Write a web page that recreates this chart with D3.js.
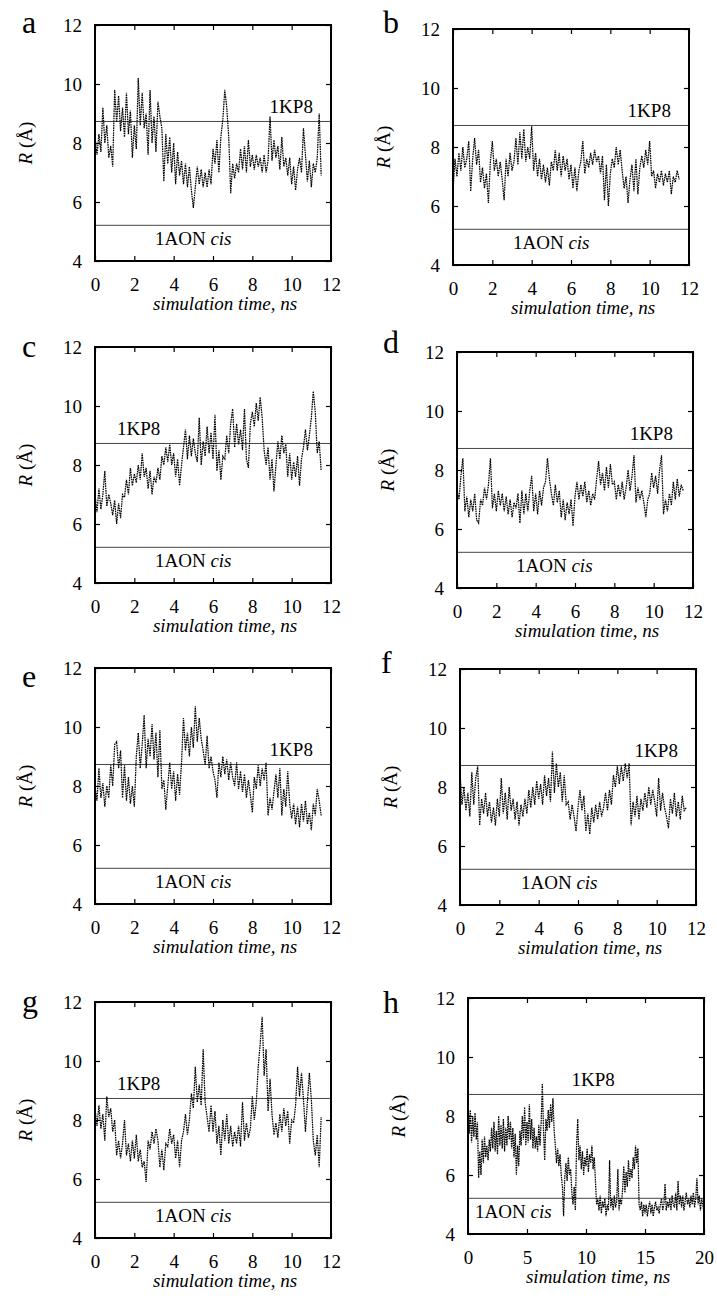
<!DOCTYPE html>
<html>
<head>
<meta charset="utf-8">
<title>R vs simulation time</title>
<style>
  body { margin: 0; background: #fff; }
</style>
</head>
<body>
<script src="https://cdnjs.cloudflare.com/ajax/libs/d3/7.9.0/d3.min.js"></script>
<script>
const width = 717, height = 1299;
const serif = "'Liberation Serif', 'Times New Roman', Times, 'DejaVu Serif', serif";

// traces are sampled every 0.1 ns
const dt = 0.1;

// reference distances (Å)
const ref1KP8 = 8.73;
const ref1AON = 5.21;

const panelNames = ["a", "b", "c", "d", "e", "f", "g", "h"];
const yTicks = [4, 6, 8, 10, 12];
const xTicks12 = [0, 2, 4, 6, 8, 10, 12];
const xTicks20 = [0, 5, 10, 15, 20];

// R (Å)
const rA = [8.2,7.6,8.3,7.7,9.2,8.0,8.6,7.5,7.9,7.2,
  9.8,8.7,9.6,8.4,9.2,8.2,9.7,8.3,9.1,7.5,
  8.6,7.8,10.2,8.6,9.7,8.5,9.0,7.6,9.8,8.0,
  8.9,7.7,9.4,8.9,8.5,6.7,8.3,7.3,8.2,7.0,
  8.0,6.6,7.7,6.9,7.4,6.6,7.3,6.5,7.2,6.4,
  5.8,6.5,7.2,6.6,7.1,6.5,7.0,6.5,7.1,6.6,
  7.8,7.3,8.1,7.0,8.2,8.8,9.8,9.2,8.2,6.3,
  7.3,6.8,7.3,7.0,7.8,7.1,7.9,7.0,8.1,7.2,
  7.6,7.1,7.6,7.2,7.5,7.0,7.6,7.0,7.4,8.9,
  7.4,8.1,7.5,7.9,7.1,8.2,7.2,7.5,6.9,7.5,
  6.6,7.2,6.4,7.1,7.5,7.0,8.5,7.6,6.7,7.4,
  6.5,7.3,7.0,7.5,9.0,6.9];

const rB = [6.5,7.6,7.0,7.8,7.2,8.0,7.3,7.6,8.2,6.5,
  7.6,8.3,7.4,7.9,6.8,7.3,6.6,7.1,6.1,7.5,
  8.2,7.2,7.6,7.0,7.5,6.9,6.2,7.6,7.0,7.8,
  7.2,7.5,8.3,7.4,8.5,7.6,8.6,7.5,8.0,7.6,
  8.7,7.2,7.8,7.0,7.6,6.9,7.4,6.8,7.3,6.7,
  7.5,7.2,7.9,7.2,7.8,7.0,7.7,7.2,7.6,6.9,
  7.4,6.6,7.3,6.5,7.2,7.5,8.2,7.1,7.6,7.3,
  7.8,7.4,7.9,7.5,7.7,7.1,7.7,6.2,7.4,6.0,
  7.1,7.6,7.3,8.0,7.4,7.9,7.2,6.6,7.0,6.1,
  6.9,7.4,6.5,7.6,6.4,7.3,7.7,7.3,7.9,7.4,
  8.2,7.0,7.2,6.6,7.1,6.8,7.2,6.7,7.1,6.8,
  7.2,6.4,7.0,6.8,7.2,6.9];

const rC = [7.0,6.4,7.2,6.5,7.0,7.8,6.6,7.0,6.7,6.3,
  6.8,6.0,6.7,6.2,7.0,6.9,7.5,7.0,7.9,7.3,
  7.7,7.4,8.0,7.5,8.4,7.6,7.9,7.2,7.8,7.0,
  7.6,7.4,7.9,7.5,8.3,8.0,8.6,8.1,8.7,8.0,
  8.4,7.6,8.2,7.3,8.0,8.6,9.2,8.2,9.0,8.3,
  8.9,8.4,8.1,9.6,8.0,8.8,8.3,9.3,8.4,9.1,
  8.2,9.7,7.8,8.5,7.5,8.3,8.2,9.0,8.4,9.4,
  9.9,8.6,9.4,8.7,9.2,8.5,9.9,8.2,7.9,9.4,
  9.8,9.3,10.1,9.5,10.3,9.6,8.5,8.0,8.6,7.5,
  8.2,7.1,8.0,8.8,8.2,9.0,8.4,8.7,7.6,8.4,
  7.5,8.1,7.6,8.3,7.3,8.2,8.6,9.2,8.5,9.0,
  9.6,10.5,9.8,8.4,8.8,7.8];

const rD = [7.3,7.0,7.8,8.4,6.6,7.1,6.4,7.0,6.6,7.2,
  6.3,6.2,7.0,6.8,7.4,7.0,7.5,8.4,6.7,7.2,
  6.6,7.3,6.8,7.2,6.6,7.1,6.5,7.0,6.4,6.9,
  6.7,7.2,6.2,7.3,6.5,7.2,6.6,7.3,7.8,6.6,
  7.2,6.5,7.3,6.8,7.4,7.6,8.4,7.7,7.2,6.8,
  7.5,6.9,7.3,6.4,7.0,6.3,6.9,6.5,7.0,6.1,
  7.1,7.6,7.0,7.5,7.1,7.6,6.9,7.3,6.8,7.2,
  7.0,7.7,8.3,7.5,7.9,7.3,8.1,7.4,8.2,7.5,
  7.6,7.0,7.5,7.1,7.6,7.0,7.4,8.0,7.3,7.8,
  8.5,6.9,7.4,7.0,7.3,6.9,6.4,7.0,7.2,7.9,
  7.4,7.8,7.2,8.0,8.5,6.5,7.0,6.6,7.2,6.8,
  7.6,7.0,7.7,7.1,7.5,7.3];

const rE = [8.0,7.5,8.6,7.6,8.1,7.3,8.0,7.6,8.7,8.0,
  9.4,9.5,8.6,9.2,7.6,8.7,7.5,8.3,7.4,8.0,
  7.3,9.0,9.8,8.6,9.4,10.4,8.6,9.6,9.0,10.1,
  8.9,9.8,8.3,9.9,7.9,8.2,7.2,8.0,8.8,7.9,
  8.5,7.5,8.4,7.7,8.8,10.3,9.2,9.8,9.0,10.0,
  9.3,10.7,9.5,10.3,9.6,9.2,8.7,9.7,8.6,9.0,
  8.5,8.2,7.6,8.8,8.3,9.0,8.4,8.9,8.2,8.8,
  8.3,8.0,8.8,7.9,8.5,7.8,8.4,7.6,8.2,7.7,
  7.1,8.3,7.9,8.7,8.0,8.6,8.2,8.8,7.0,7.6,
  7.2,7.8,8.4,7.6,8.6,7.0,7.9,7.3,8.5,7.4,
  6.9,7.4,6.7,7.3,6.6,7.4,6.8,7.5,6.7,7.1,
  6.5,7.4,7.0,7.9,7.5,7.0];

const rF = [8.5,7.4,8.0,7.2,7.8,7.0,8.5,7.4,8.3,8.7,
  6.7,7.6,7.1,7.8,7.0,7.5,6.8,7.3,6.7,7.6,
  7.0,8.3,7.1,7.8,6.9,8.0,7.2,7.6,6.9,7.5,
  6.7,7.4,7.0,7.6,7.1,7.9,7.3,8.0,7.4,8.2,
  7.6,8.1,7.4,8.4,7.7,8.3,7.5,9.2,7.8,8.8,
  8.0,8.5,7.5,8.4,7.4,7.5,6.9,7.4,7.0,6.5,
  7.3,7.9,7.2,7.7,6.5,7.1,6.4,7.3,6.8,7.4,
  6.9,7.5,7.0,7.3,7.8,7.2,7.9,7.4,8.4,8.0,
  8.7,8.1,8.7,8.2,8.8,8.3,8.8,6.7,7.5,7.0,
  7.7,6.9,7.6,7.2,7.8,7.3,8.0,7.4,7.9,7.5,
  7.0,8.3,7.2,7.8,7.3,7.0,6.6,7.6,7.1,7.8,
  7.0,7.5,6.9,7.7,7.2,7.3];

const rG = [8.4,7.8,8.5,7.7,8.2,7.3,8.8,8.1,8.4,7.6,
  8.0,6.8,7.3,6.7,7.2,8.0,6.8,7.2,6.6,7.3,
  6.7,7.5,6.6,7.0,6.4,6.6,5.9,7.3,7.0,7.6,
  7.2,7.7,7.3,6.4,7.0,6.3,7.2,7.1,7.7,7.2,
  7.5,6.7,7.3,6.4,7.3,7.6,8.2,7.5,8.0,8.9,
  8.4,9.8,8.6,9.2,8.5,10.4,8.6,8.1,7.6,8.5,
  7.6,8.3,7.2,7.8,6.8,8.0,7.3,8.2,7.2,7.8,
  7.1,7.6,7.2,7.8,7.1,8.6,7.3,7.9,7.4,7.7,
  8.8,8.0,8.6,9.8,10.6,11.5,9.5,10.4,8.3,9.4,
  8.2,7.5,7.9,7.4,8.2,7.6,8.4,7.8,8.3,7.2,
  8.0,7.9,8.5,9.8,8.8,9.6,8.7,7.6,8.6,9.6,
  8.7,7.3,6.8,7.5,6.4,8.1];

const rH = [8.7,7.4,8.2,7.1,8.0,7.3,8.1,7.2,7.8,5.9,6.8,
  6.0,7.2,6.4,7.3,6.6,7.0,6.5,7.2,6.8,7.6,
  6.9,7.8,6.8,7.5,6.7,8.0,7.0,7.7,6.9,7.9,
  6.8,7.6,7.0,8.0,7.2,7.8,6.9,7.6,6.6,7.4,
  6.0,7.0,6.3,7.5,7.0,8.0,7.2,8.3,7.0,7.8,
  7.1,8.4,7.2,7.9,6.9,7.6,6.9,7.3,6.8,7.7,
  7.0,7.8,9.1,7.5,6.5,7.9,7.5,8.2,7.6,8.4,
  7.8,8.6,7.5,7.0,6.4,6.9,6.3,6.7,6.0,5.6,
  4.6,5.9,6.4,5.8,6.6,6.0,6.2,5.4,5.0,5.6,
  4.8,7.0,7.9,6.5,7.0,6.2,6.8,6.0,6.6,6.3,
  6.9,6.1,6.7,6.4,7.0,6.2,6.6,5.8,5.0,5.2,
  4.8,5.3,4.7,5.1,4.9,5.2,4.6,5.0,4.8,6.5,
  4.9,5.2,4.8,5.3,4.9,5.1,6.2,4.8,5.2,5.0,
  5.5,6.3,5.4,6.1,5.6,6.5,5.8,6.2,5.9,6.6,
  6.2,7.0,6.4,6.9,5.0,4.8,5.1,4.6,5.0,4.7,
  5.0,4.6,4.9,5.1,4.7,5.0,4.6,4.9,5.1,4.8,
  4.9,4.7,5.0,5.2,4.8,5.0,5.7,4.8,5.1,4.9,
  5.2,4.8,5.3,5.0,4.9,5.4,4.8,5.8,5.0,5.3,
  4.9,5.3,4.8,5.1,5.4,5.0,5.2,4.9,5.3,5.0,
  5.4,4.9,5.2,5.9,5.0,5.3,4.8,5.2,5.0,4.7];

const series = [rA, rB, rC, rD, rE, rF, rG, rH];
const xMax = [12, 12, 12, 12, 12, 12, 12, 20];

// where each panel sits on the page, and where its labels go
const layout = [
  {x: 95,  y: 25,   lx: 22,  ly: 33,   kp: [11.08, "end"],  aon: 3.05},
  {x: 453, y: 29,   lx: 383, ly: 33,   kp: [11.08, "end"],  aon: 3.05},
  {x: 95,  y: 347,  lx: 22,  ly: 357,  kp: [1.12, "start"], aon: 3.05},
  {x: 457, y: 352,  lx: 383, ly: 353,  kp: [10.98, "end"],  aon: 3.0},
  {x: 95,  y: 668,  lx: 22,  ly: 687,  kp: [11.08, "end"],  aon: 3.05},
  {x: 460, y: 669,  lx: 381, ly: 673,  kp: [11.08, "end"],  aon: 3.1},
  {x: 95,  y: 1002, lx: 22,  ly: 1012, kp: [1.12, "start"], aon: 3.05},
  {x: 468, y: 998,  lx: 383, ly: 1013, kp: [8.77, "start"], aon: 0.6}
];
const boxW = 236, boxH = 236;

const svg = d3.select("body").append("svg")
  .attr("width", width)
  .attr("height", height)
  .attr("font-family", serif);

panelNames.forEach(function (name, i) {
  const L = layout[i];
  const data = series[i];
  const xTicks = xMax[i] === 20 ? xTicks20 : xTicks12;

  const x = d3.scaleLinear().domain([0, xMax[i]]).range([0, boxW]);
  const y = d3.scaleLinear().domain([4, 12]).range([boxH, 0]);

  const g = svg.append("g").attr("transform", `translate(${L.x},${L.y})`);

  // reference lines
  g.append("line")
    .attr("x1", 0).attr("x2", boxW)
    .attr("y1", y(ref1KP8)).attr("y2", y(ref1KP8))
    .attr("stroke", "#444").attr("stroke-width", 1);
  g.append("line")
    .attr("x1", 0).attr("x2", boxW)
    .attr("y1", y(ref1AON)).attr("y2", y(ref1AON))
    .attr("stroke", "#444").attr("stroke-width", 1);

  // trace
  const line = d3.line()
    .x((d, k) => x(k * dt))
    .y(d => y(d));
  g.append("path")
    .datum(data)
    .attr("d", line)
    .attr("fill", "none")
    .attr("stroke", "#000")
    .attr("stroke-width", 1.25)
    .attr("stroke-dasharray", "1.6,0.8");

  // reference labels
  g.append("text")
    .attr("x", x(L.kp[0]))
    .attr("y", y(ref1KP8) - 8)
    .attr("text-anchor", L.kp[1])
    .attr("font-size", 19)
    .attr("font-family", serif)
    .text("1KP8");
  const aon = g.append("text")
    .attr("x", x(L.aon))
    .attr("y", y(ref1AON) + 20)
    .attr("font-size", 19)
    .attr("font-family", serif);
  aon.append("tspan").text("1AON ");
  aon.append("tspan").attr("font-style", "italic").text("cis");

  // axes, ticks pointing inward on all four sides
  g.append("g")
    .attr("transform", `translate(0,${boxH})`)
    .call(d3.axisBottom(x).tickValues(xTicks).tickSizeInner(-5).tickSizeOuter(0).tickPadding(17))
    .call(a => a.select(".domain").remove())
    .call(a => a.selectAll("text").attr("font-size", 19).attr("font-family", serif));
  g.append("g")
    .call(d3.axisTop(x).tickValues(xTicks).tickSizeInner(-5).tickSizeOuter(0).tickFormat(""))
    .call(a => a.select(".domain").remove());
  g.append("g")
    .call(d3.axisLeft(y).tickValues(yTicks).tickSizeInner(-5).tickSizeOuter(0).tickPadding(13))
    .call(a => a.select(".domain").remove())
    .call(a => a.selectAll("text").attr("font-size", 19).attr("font-family", serif));
  g.append("g")
    .attr("transform", `translate(${boxW},0)`)
    .call(d3.axisRight(y).tickValues(yTicks).tickSizeInner(-5).tickSizeOuter(0).tickFormat(""))
    .call(a => a.select(".domain").remove());
  g.selectAll(".tick line").attr("stroke", "#000").attr("stroke-width", 1.2);

  // frame
  g.append("rect")
    .attr("width", boxW).attr("height", boxH)
    .attr("fill", "none")
    .attr("stroke", "#000")
    .attr("stroke-width", 2);

  // axis titles
  g.append("text")
    .attr("x", boxW / 2 + 12)
    .attr("y", boxH + 49)
    .attr("text-anchor", "middle")
    .attr("font-size", 19)
    .attr("font-style", "italic")
    .attr("font-family", serif)
    .text("simulation time, ns");

  const yt = g.append("text")
    .attr("transform", `translate(-63,${boxH / 2}) rotate(-90)`)
    .attr("text-anchor", "middle")
    .attr("font-size", 19)
    .attr("font-family", serif);
  yt.append("tspan").attr("font-style", "italic").text("R");
  yt.append("tspan").text(" (Å)");

  // panel letter
  svg.append("text")
    .attr("x", L.lx)
    .attr("y", L.ly)
    .attr("font-size", 32)
    .attr("font-family", serif)
    .text(name);
});
</script>
</body>
</html>
